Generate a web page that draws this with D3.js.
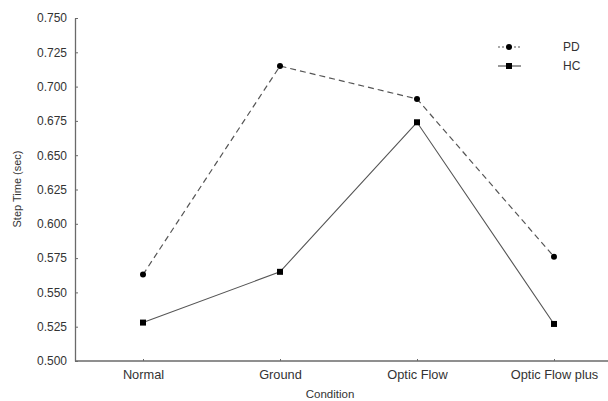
<!DOCTYPE html>
<html><head><meta charset="utf-8">
<script src="https://cdn.jsdelivr.net/npm/d3@7"></script>
<style>body{margin:0;background:#fff}svg{display:block}</style>
</head><body><svg id="c" width="608" height="401"></svg>
<script>
const categories = ["Normal", "Ground", "Optic Flow", "Optic Flow plus"];
const pdValues = [0.563, 0.715, 0.691, 0.576];
const hcValues = [0.528, 0.565, 0.674, 0.527];
const yTicks = [0.500, 0.525, 0.550, 0.575, 0.600, 0.625, 0.650, 0.675, 0.700, 0.725, 0.750];
const seriesNames = ["PD", "HC"];

const svg = d3.select("#c");
const x = d3.scalePoint().domain(categories).range([143, 554]).padding(0);
const y = d3.scaleLinear().domain([0.5, 0.75]).range([361, 18]);
const font = "Arial, 'Liberation Sans', sans-serif";
const axisColor = "#6a6a6a";
const textColor = "#333";

// Y axis
const yAxis = svg.append("g").attr("transform", "translate(75,0)")
  .call(d3.axisLeft(y).tickValues(yTicks).tickFormat(d3.format(".3f")).tickSizeInner(-3).tickSizeOuter(0).tickPadding(8));
yAxis.select(".domain").attr("stroke", axisColor).attr("stroke-width", 1.3);
yAxis.selectAll(".tick line").attr("stroke", axisColor);
yAxis.selectAll("text").attr("font-family", font).attr("font-size", 12).attr("fill", textColor);

// X axis
const xAxis = svg.append("g").attr("transform", "translate(0,361)")
  .call(d3.axisBottom(x).tickSizeInner(-2).tickSizeOuter(0).tickPadding(9));
xAxis.select(".domain").attr("d", "M75,0H608").attr("stroke", axisColor).attr("stroke-width", 1.3);
xAxis.selectAll(".tick line").attr("stroke", axisColor);
xAxis.selectAll("text").attr("font-family", font).attr("font-size", 12.8).attr("fill", textColor);

// Axis titles
svg.append("text").attr("x", 330).attr("y", 398).attr("text-anchor", "middle")
  .attr("font-family", font).attr("font-size", 11.5).attr("fill", textColor).text("Condition");
svg.append("text").attr("transform", "translate(21,189) rotate(-90)").attr("text-anchor", "middle")
  .attr("font-family", font).attr("font-size", 11).attr("fill", textColor).text("Step Time (sec)");

const line = d3.line().x((d, i) => x(categories[i])).y(d => y(d));

// PD dashed
svg.append("path").datum(pdValues).attr("d", line).attr("fill", "none")
  .attr("stroke", "#555").attr("stroke-width", 1.2).attr("stroke-dasharray", "6,4");
svg.selectAll(".pd").data(pdValues).enter().append("circle")
  .attr("cx", (d, i) => x(categories[i])).attr("cy", d => y(d)).attr("r", 3).attr("fill", "#000");

// HC solid
svg.append("path").datum(hcValues).attr("d", line).attr("fill", "none")
  .attr("stroke", "#555").attr("stroke-width", 1.1);
svg.selectAll(".hc").data(hcValues).enter().append("rect")
  .attr("x", (d, i) => x(categories[i]) - 3).attr("y", d => y(d) - 3)
  .attr("width", 6).attr("height", 6).attr("fill", "#000");

// Legend
const leg = svg.append("g");
const ly = [47, 66];
seriesNames.forEach((name, i) => {
  const g = leg.append("g").attr("transform", `translate(0,${ly[i]})`);
  g.append("line").attr("x1", 498).attr("x2", 521).attr("y1", 0).attr("y2", 0)
    .attr("stroke", "#555").attr("stroke-width", 1.2).attr("stroke-dasharray", i === 0 ? "2,2" : null);
  if (i === 0) g.append("circle").attr("cx", 509).attr("cy", 0).attr("r", 3).attr("fill", "#000");
  else g.append("rect").attr("x", 506).attr("y", -3).attr("width", 6).attr("height", 6).attr("fill", "#000");
  g.append("text").attr("x", 563).attr("y", 4).attr("font-family", font).attr("font-size", 12)
    .attr("fill", textColor).text(name);
});
</script></body></html>
